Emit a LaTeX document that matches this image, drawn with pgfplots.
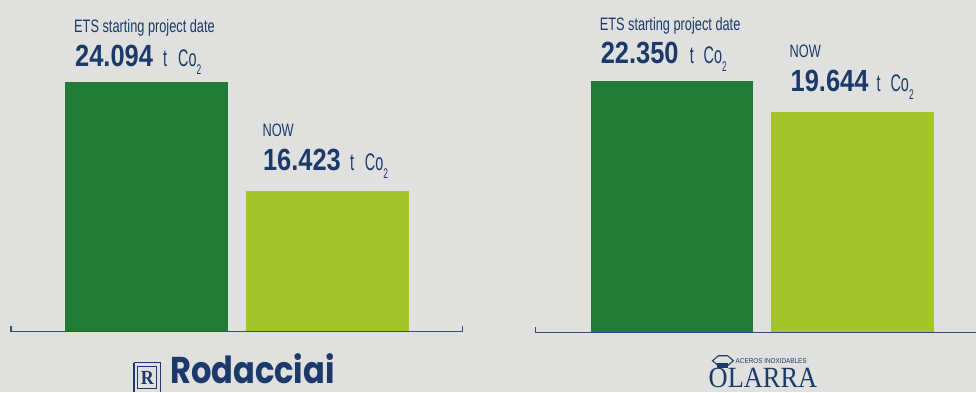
\documentclass[border=0pt]{standalone}
\usepackage{pgfplots}
\pgfplotsset{compat=1.18}
\usepackage{fontspec}
\setmainfont{Liberation Sans}
\newfontfamily\labfont{Liberation Sans}[FakeStretch=0.71]
\newfontfamily\numfont{Liberation Sans}[FakeStretch=0.83]
\newfontfamily\unitfont{Liberation Sans}[FakeStretch=0.6]
\newfontfamily\smallfont{Liberation Sans}[FakeStretch=0.9]
\newfontfamily\logofont{Poppins}[FakeStretch=0.86]
\newfontfamily\seriflogo{Liberation Serif}[FakeStretch=0.9]
\definecolor{bg}{HTML}{E0E0DE}
\definecolor{dg}{HTML}{217A35}
\definecolor{lg}{HTML}{A5C52C}
\definecolor{navy}{HTML}{1B3A6B}
\definecolor{axc}{HTML}{2E4F7C}

\newcommand{\vlab}[3]{\node[anchor=base west,inner sep=0,text=navy,font=\labfont\fontsize{13.5pt}{16pt}\selectfont] at (#1,{392-#2}) {#3};}
\newcommand{\vnum}[3]{\node[anchor=base west,inner sep=0,text=navy,font=\numfont\bfseries\fontsize{23pt}{26pt}\selectfont] at (#1,{392-#2}) {#3};}
\newcommand{\vunit}[3]{%
  \node[anchor=base west,inner sep=0,text=navy,font=\unitfont\fontsize{18pt}{20pt}\selectfont] at (#1,{392-#2}) {t};
  \node[anchor=base west,inner sep=0,text=navy,font=\unitfont\fontsize{18pt}{20pt}\selectfont] at (#3,{392-#2}) {Co\raisebox{-6pt}{\fontsize{10.5pt}{12pt}\selectfont 2}};}

\begin{document}
\begin{tikzpicture}
\fill[bg] (0,0) rectangle (732.75pt,294pt);

\begin{axis}[name=L, at={(8.25pt,45pt)}, anchor=south west, scale only axis,
  width=339pt, height=249pt, xmin=-0.7486, xmax=1.7486, ymin=6.5, ymax=29.86, hide axis]
\addplot[ybar, bar width=0.9, fill=dg, draw=none] coordinates {(0,24.094)};
\addplot[ybar, bar width=0.9, fill=lg, draw=none] coordinates {(1,16.423)};
\end{axis}

\begin{axis}[name=R, at={(402pt,44.25pt)}, anchor=south west, scale only axis,
  width=330.75pt, height=249.75pt, xmin=-0.7541, xmax=1.6823, ymin=0.353, ymax=29.42, hide axis]
\addplot[ybar, bar width=0.9, fill=dg, draw=none] coordinates {(0,22.350)};
\addplot[ybar, bar width=0.9, fill=lg, draw=none] coordinates {(1,19.644)};
\end{axis}

\draw[axc, line width=1.1pt] ([yshift=4.5pt]L.south west) -- (L.south west) -- (L.south east) -- ([yshift=4.5pt]L.south east);
\draw[axc, line width=1.1pt] ([yshift=4.5pt]R.south west) -- (R.south west) -- (R.south east);

\begin{scope}[x=0.75pt,y=0.75pt]
\vlab{74}{32.5}{ETS starting project date}
\vnum{75}{67}{24.094}
\vunit{163}{67}{178}
\vlab{262.5}{137}{NOW}
\vnum{263}{171}{16.423}
\vunit{350}{171}{365}
\vlab{600}{31}{ETS starting project date}
\vnum{601}{64}{22.350}
\vunit{690}{64}{704}
\vlab{790}{58}{NOW}
\vnum{791}{92}{19.644}
\vunit{877}{92}{891}

\draw[navy, line width=0.9pt] (134,{392-363}) -- (134,0) (161,0) -- (161,{392-363}) -- (134,{392-363});
\draw[navy, line width=0.6pt] (138,{392-367}) rectangle (157,{392-389});
\node[text=navy, inner sep=0, font=\seriflogo\bfseries\fontsize{15pt}{15pt}\selectfont] at (147.5,{392-378}) {R};
\node[anchor=base west, inner sep=0, text=navy, font=\logofont\bfseries\fontsize{28pt}{30pt}\selectfont] at (170,{392-384}) {Rodacciai};

\draw[navy, line width=0.8pt] (713,{392-361}) -- (719,{392-356}) -- (728,{392-356}) -- (734,{392-361}) -- (728,{392-366}) -- (719,{392-366}) -- cycle;
\fill[navy] (718,{392-363}) rectangle (729,{392-368});
\node[anchor=base west, inner sep=0, text=navy, font=\smallfont\fontsize{5.3pt}{6pt}\selectfont] at (736,{392-364}) {ACEROS INOXIDABLES};
\node[anchor=base west, inner sep=0, text=navy, font=\seriflogo\fontsize{22pt}{26pt}\selectfont] at (709,{392-388}) {OLARRA};
\end{scope}
\end{tikzpicture}
\end{document}
